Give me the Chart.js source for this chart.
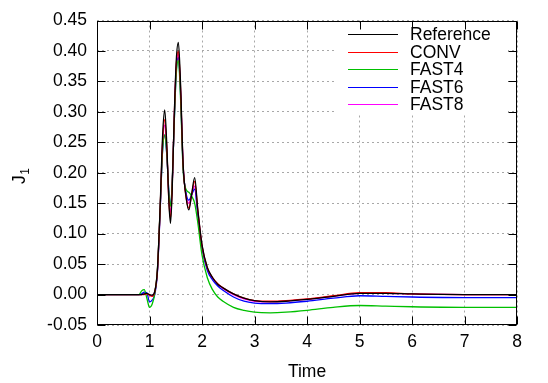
<!DOCTYPE html>
<html>
<head>
<meta charset="utf-8">
<script src="https://cdn.jsdelivr.net/npm/chart.js@4"></script>
<style>
body{margin:0;background:#fff;}
canvas{display:block;}
</style>
</head>
<body>
<canvas id="chart" width="548" height="383"></canvas>
<script>

/* DATA */

const times = [0,0.70,0.80,0.85,0.90,0.95,1.00,1.05,1.10,1.15,1.20,1.25,1.29,1.33,1.37,1.40,1.43,1.47,1.51,1.55,1.59,1.64,1.70,1.75,1.80,1.86,1.92,2.00,2.10,2.20,2.30,2.40,2.60,2.80,3.00,3.30,3.60,4.00,4.50,5.00,5.50,6.00,7.00,8.00];

const reference = [0,0,0,0,0.001,0.002,0.000,-0.001,0.005,0.040,0.138,0.262,0.303,0.245,0.150,0.117,0.165,0.290,0.385,0.414,0.350,0.215,0.158,0.139,0.163,0.192,0.140,0.082,0.045,0.028,0.017,0.011,0.001,-0.006,-0.010,-0.012,-0.011,-0.008,-0.003,0.002,0.002,0.001,0.000,0.000];
const conv = [0,0,0,0,0.000,0.001,-0.001,-0.003,0.004,0.038,0.135,0.252,0.287,0.240,0.152,0.125,0.170,0.288,0.378,0.400,0.342,0.213,0.158,0.142,0.163,0.186,0.138,0.080,0.044,0.028,0.018,0.011,0.001,-0.006,-0.010,-0.011,-0.010,-0.007,-0.002,0.003,0.003,0.001,0.000,0.000];
const fast4 = [0,0,0.000,0.006,0.008,-0.006,-0.021,-0.016,0.002,0.040,0.135,0.238,0.262,0.230,0.165,0.145,0.180,0.280,0.362,0.385,0.325,0.205,0.172,0.168,0.162,0.150,0.118,0.065,0.028,0.008,-0.004,-0.011,-0.021,-0.026,-0.029,-0.030,-0.029,-0.026,-0.021,-0.018,-0.019,-0.020,-0.021,-0.021];
const fast6 = [0,0,0,0.001,0.004,0.003,-0.012,-0.009,0.000,0.035,0.130,0.238,0.262,0.228,0.168,0.149,0.178,0.280,0.368,0.390,0.333,0.210,0.165,0.155,0.163,0.173,0.130,0.076,0.040,0.024,0.014,0.007,-0.004,-0.011,-0.014,-0.015,-0.014,-0.011,-0.006,-0.002,-0.003,-0.004,-0.005,-0.005];
const fast8 = [0,0,0,0,0.001,0.002,-0.001,-0.002,0.004,0.037,0.133,0.248,0.278,0.235,0.158,0.135,0.175,0.285,0.373,0.395,0.338,0.212,0.162,0.150,0.163,0.178,0.136,0.079,0.043,0.027,0.017,0.010,0.000,-0.007,-0.011,-0.012,-0.011,-0.008,-0.003,0.002,0.002,0.001,0.000,0.000];

const seriesNames = ["Reference","CONV","FAST4","FAST6","FAST8"];
const seriesColors = ["#000000","#ff0000","#00c000","#0000ff","#ff00ff"];
const seriesValues = [reference,conv,fast4,fast6,fast8];

const xTicks = [0,1,2,3,4,5,6,7,8];
const yTicks = [-0.05,0,0.05,0.10,0.15,0.20,0.25,0.30,0.35,0.40,0.45];

const FONT = '"Liberation Sans", Arial, sans-serif';


/* PLUGINS */

// white key box + key lines and labels, inside the plot
const keyPlugin = {
id:"key",
afterDatasetsDraw(chart){
const ctx = chart.ctx;
ctx.save();
ctx.fillStyle = "#fff";
ctx.fillRect(336,25,172,88);
ctx.font = "17.5px " + FONT;
ctx.textBaseline = "middle";
ctx.textAlign = "left";
chart.data.datasets.forEach((ds,i)=>{
const y = Math.round(34 + i*17.5) + 0.5;
ctx.strokeStyle = ds.borderColor;
ctx.lineWidth = 1;
ctx.beginPath();
ctx.moveTo(348,y);
ctx.lineTo(398,y);
ctx.stroke();
ctx.fillStyle = "#000";
ctx.fillText(ds.label,410,y+1);
});
ctx.restore();
}
};

// border box, inward ticks on all four sides, axis titles
const framePlugin = {
id:"frame",
afterDraw(chart){
const ctx = chart.ctx;
const a = chart.chartArea;
const xs = chart.scales.x, ys = chart.scales.y;
const L = Math.round(a.left)+0.5, R = Math.round(a.right)-0.5;
const T = Math.round(a.top)+0.5, B = Math.round(a.bottom)-0.5;
ctx.save();
ctx.strokeStyle = "#000";
ctx.lineWidth = 1;
ctx.beginPath();
xTicks.forEach(v=>{
const px = Math.round(xs.getPixelForValue(v))+0.5;
ctx.moveTo(px,B); ctx.lineTo(px,B-8);
ctx.moveTo(px,T); ctx.lineTo(px,T+8);
});
yTicks.forEach(v=>{
const py = Math.round(ys.getPixelForValue(v))+0.5;
ctx.moveTo(L,py); ctx.lineTo(L+8,py);
ctx.moveTo(R,py); ctx.lineTo(R-8,py);
});
ctx.stroke();
ctx.strokeRect(L,T,R-L,B-T);

ctx.fillStyle = "#000";
ctx.font = "17.5px " + FONT;
ctx.textAlign = "center";
ctx.textBaseline = "alphabetic";
ctx.fillText("Time",(a.left+a.right)/2,377);

// J with subscript 1, rotated
ctx.translate(25,184);
ctx.rotate(-Math.PI/2);
ctx.textAlign = "left";
ctx.fillText("J",0,0);
const w = ctx.measureText("J").width;
ctx.font = "12px " + FONT;
ctx.fillText("1",w+0.5,4);
ctx.restore();
}
};


/* CHART */

new Chart(
document.getElementById("chart"),
{
type:"line",
data:{
datasets: seriesNames.map((name,i)=>({
label:name,
data: times.map((t,j)=>({x:t,y:seriesValues[i][j]})),
borderColor:seriesColors[i],
backgroundColor:seriesColors[i],
borderWidth:1.3,
pointRadius:0,
cubicInterpolationMode:"monotone",
fill:false
}))
},
options:{
responsive:false,
animation:false,
devicePixelRatio:1,
layout:{padding:{left:0,top:17,right:31,bottom:0}},
plugins:{legend:{display:false},tooltip:{enabled:false}},
scales:{
x:{
type:"linear",
min:0,max:8,
afterFit(s){ s.height = 58; },
afterBuildTicks(s){ s.ticks = xTicks.map(v=>({value:v})); },
grid:{color:"#a8a8a8",lineWidth:1,drawTicks:false},
border:{display:false,dash:[2,3]},
ticks:{padding:7,color:"#000",font:{family:FONT,size:17.5},callback:v=>String(v),maxRotation:0}
},
y:{
type:"linear",
min:-0.05,max:0.45,
afterFit(s){ s.width = 97; },
afterBuildTicks(s){ s.ticks = yTicks.map(v=>({value:v})); },
grid:{color:"#a8a8a8",lineWidth:1,drawTicks:false},
border:{display:false,dash:[2,3]},
ticks:{padding:10,color:"#000",font:{family:FONT,size:17.5},callback:v=>Number(v).toFixed(2)}
}
}
},
plugins:[keyPlugin,framePlugin]
}
);

</script>
</body>
</html>
